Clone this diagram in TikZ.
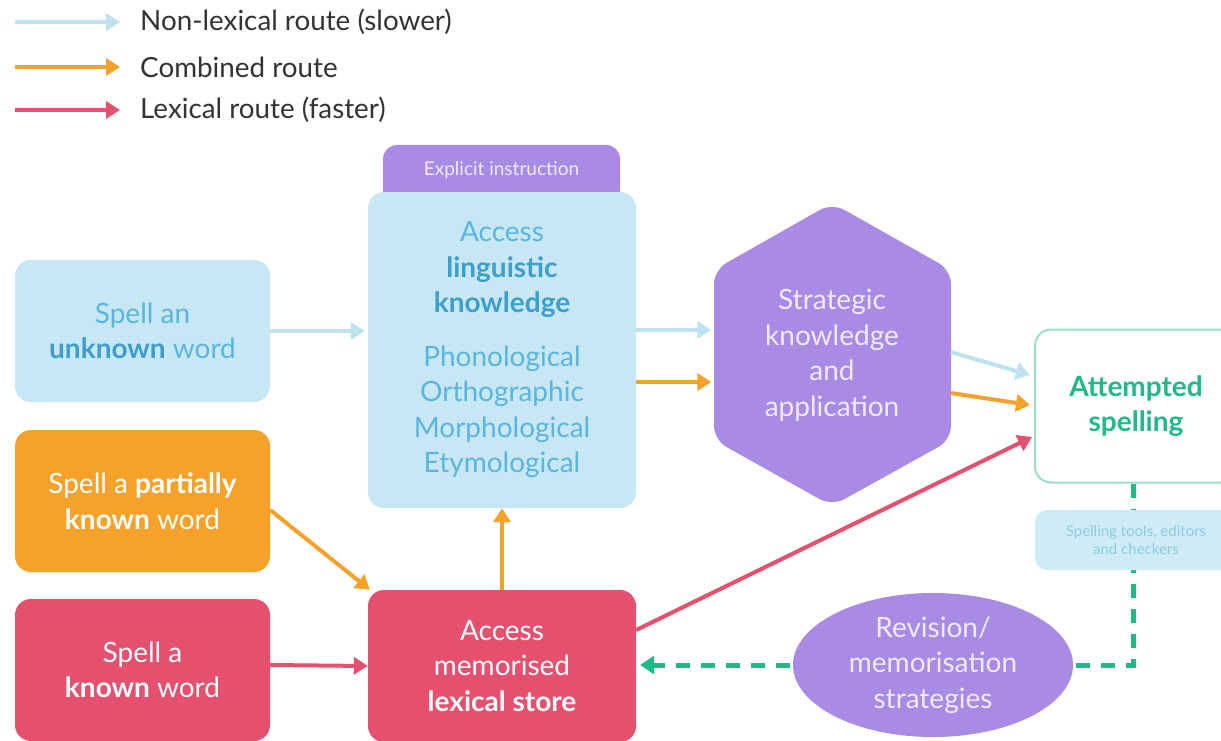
\documentclass[tikz,border=0pt]{standalone}
\usepackage{fontspec}
\setmainfont{Lato}
\usetikzlibrary{arrows.meta,backgrounds,shapes.geometric}

\definecolor{skyfill}{HTML}{C6E7F3}
\definecolor{skytext}{HTML}{5AB6DD}
\definecolor{skybold}{HTML}{3C9FCC}
\definecolor{skyline}{HTML}{BEE2EF}
\definecolor{amber}{HTML}{F5A12A}
\definecolor{rose}{HTML}{E5506E}
\definecolor{lilac}{HTML}{A98AE4}
\definecolor{lilactext}{HTML}{F1EAFD}
\definecolor{mint}{HTML}{1EBA88}
\definecolor{legendtext}{HTML}{333333}

\tikzset{
  bodyfont/.style={font=\fontsize{28}{35.5}\selectfont},
  box/.style={rounded corners=16pt, minimum width=255pt, minimum height=142pt,
    align=center, inner sep=0pt, bodyfont},
  route/.style={line width=4pt, -{Triangle[length=14pt,width=17pt]}},
  legend/.style={anchor=west, inner sep=0pt, text=legendtext,
    font=\fontsize{27.8}{30}\selectfont},
  feedback/.style={mint, line width=5pt, dash pattern=on 14pt off 11pt,
    -{Triangle[length=14pt,width=18pt]}}
}

\begin{document}
\begin{tikzpicture}[x=1pt,y=-1pt]
\useasboundingbox (0,0) rectangle (1221,741);
\begin{scope}
\clip (0,0) rectangle (1221,741);

% legend
\node[legend] (lnon) at (140,22) {Non-lexical route (slower)};
\node[legend] (lcomb) at (140,67) {Combined route};
\node[legend] (llex) at (140,110) {Lexical route (faster)};
\coordinate (snon) at (15,22);
\coordinate (scomb) at (15,67);
\coordinate (slex) at (15,110);
\draw[route,skyline] (snon) -- ([xshift=-20pt]lnon.west);
\draw[route,amber] (scomb) -- ([xshift=-20pt]lcomb.west);
\draw[route,rose] (slex) -- ([xshift=-20pt]llex.west);

% starting points
\node[box, fill=skyfill, text=skytext] (unknown) at (142.5,331)
  {Spell an\\{\bfseries\color{skybold}unknown} word};
\node[box, fill=amber, text=white] (partial) at (142.5,501)
  {Spell a \textbf{partially}\\\textbf{known} word};
\node[box, fill=rose, text=white] (known) at (142.5,670)
  {Spell a\\\textbf{known} word};

% linguistic knowledge with its tab
\node[rounded corners=14pt, fill=lilac, minimum width=237pt, minimum height=60pt,
  inner sep=0pt] (tab) at (501.5,175) {};
\node[text=lilactext, font=\fontsize{19}{22}\selectfont] (tablabel) at (501.5,170)
  {Explicit instruction};
\node[box, fill=skyfill, text=skytext, minimum width=268pt, minimum height=316pt]
  (ling) at (502,350) {};
\node[text=skytext, align=center, bodyfont] (lingtext) at (502,350)
  {Access\\{\bfseries\color{skybold}linguistic}\\{\bfseries\color{skybold}knowledge}\\[18pt]
   Phonological\\Orthographic\\Morphological\\Etymological};

% lexical store
\node[box, fill=rose, text=white, minimum width=268pt, minimum height=152pt]
  (store) at (502,666) {Access\\memorised\\\textbf{lexical store}};

% strategic knowledge hexagon
\fill[lilac, rounded corners=14pt] (832,203) -- (951,270) -- (951,440) -- (832,506)
  -- (714,440) -- (714,270) -- cycle;
\node[text=lilactext, align=center, minimum width=237pt, minimum height=170pt,
  inner sep=0pt, bodyfont] (hex) at (832,355)
  {Strategic\\knowledge\\and\\application};

% outcome
\node[box, draw=mint!45, line width=2pt, fill=white, text=mint,
  minimum width=202pt, minimum height=153pt] (att) at (1136,406)
  {\textbf{Attempted}\\\textbf{spelling}};

% feedback loop, drawn beneath the boxes it passes
\begin{scope}[on background layer]
\fill[white] (0,0) rectangle (1221,741);
\draw[feedback] ([xshift=-3pt]att.south) |- ([xshift=4pt]store.east |- 0,665);
\end{scope}

\node[box, fill=skyfill!85, text=skytext!70, minimum width=202pt,
  minimum height=60pt, rounded corners=12pt, font=\fontsize{15}{18}\selectfont]
  (tools) at (1136,540) {Spelling tools, editors\\and checkers};

% revision
\node[ellipse, fill=lilac, text=lilactext, minimum width=280pt, minimum height=144pt,
  inner sep=0pt, align=center, bodyfont] (rev) at (933,665)
  {Revision/\\memorisation\\strategies};

% connectors
\draw[route,skyline] (unknown.east) -- ([xshift=-3pt]ling.west |- unknown.east);
\draw[route,skyline] ([yshift=20pt]ling.east) -- ([yshift=25pt,xshift=-2pt]hex.west);
\draw[route,amber] ([yshift=-32pt]ling.east) -- ([yshift=-27pt,xshift=-2pt]hex.west);
\draw[route,skyline] ([yshift=3pt]hex.east) -- ([yshift=31pt,xshift=-4pt]att.west);
\draw[route,amber] ([yshift=-38pt]hex.east) -- ([yshift=1pt,xshift=-4pt]att.west);
\draw[route,rose] ([yshift=36pt]store.east) -- ([yshift=-31pt,xshift=-2pt]att.west);
\draw[route,amber] ([yshift=-9pt]partial.east) -- ([xshift=2pt]store.north west);
\draw[route,amber] (store.north) -- (ling.south);
\draw[route,rose] ([yshift=5pt]known.east) -- (store.west);
\end{scope}
\end{tikzpicture}
\end{document}
